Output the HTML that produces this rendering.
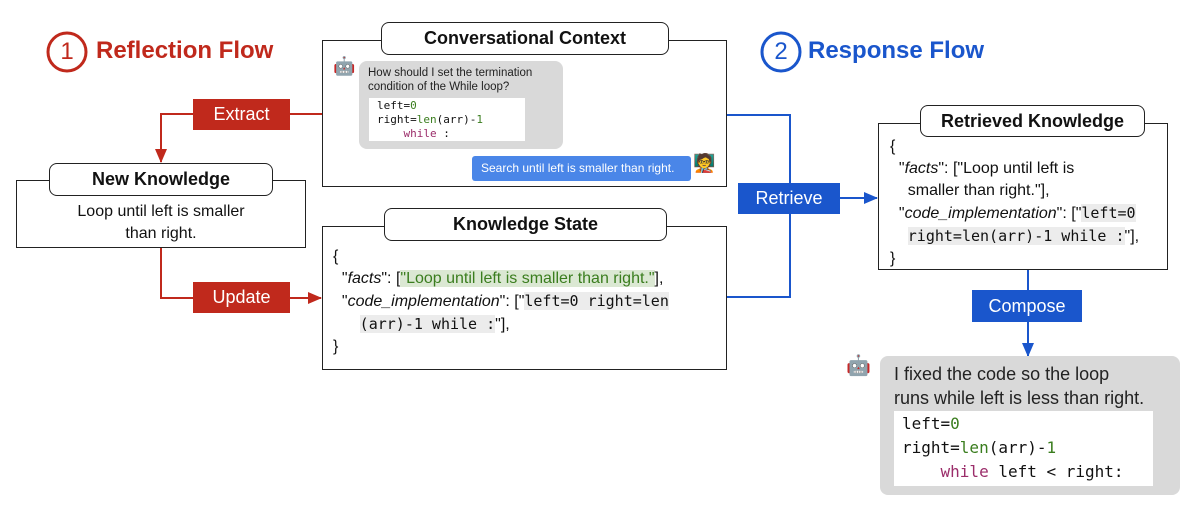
<!DOCTYPE html>
<html><head><meta charset="utf-8"><style>
body{margin:0;width:1200px;height:517px;background:#fff;position:relative;overflow:hidden;font-family:"Liberation Sans",sans-serif;color:#111}
.a{position:absolute;box-sizing:border-box}
.box{border:1.5px solid #222;background:#fff}
.title{border:1.5px solid #222;border-radius:8px;background:#fff;font-weight:bold;font-size:18px;text-align:center}
.lab{color:#fff;font-size:18px;text-align:center}
.red{background:#c0291c}.blue{background:#1a56cc}
.mono{font-family:"DejaVu Sans Mono","Liberation Mono",monospace}
.g{color:#3a7d1e}.p{color:#9b2d6a}
.hl{background:#ececec}
</style></head><body>
<svg class="a" style="left:0;top:0" width="1200" height="517">
<defs>
<marker id="mr" markerWidth="14" markerHeight="14" refX="13" refY="7" orient="auto" markerUnits="userSpaceOnUse"><path d="M0,1L14,7L0,13z" fill="#c0291c"/></marker>
<marker id="mb" markerWidth="14" markerHeight="14" refX="13" refY="7" orient="auto" markerUnits="userSpaceOnUse"><path d="M0,1L14,7L0,13z" fill="#1a56cc"/></marker>
</defs>
<g fill="none" stroke-width="2">
<polyline points="322,114 161,114 161,162" stroke="#c0291c" marker-end="url(#mr)"/>
<polyline points="161,248 161,298 321,298" stroke="#c0291c" marker-end="url(#mr)"/>
<polyline points="727,115 790,115 790,297 727,297" stroke="#1a56cc"/>
<line x1="840" y1="198" x2="877" y2="198" stroke="#1a56cc" marker-end="url(#mb)"/>
<line x1="1028" y1="270" x2="1028" y2="356" stroke="#1a56cc" marker-end="url(#mb)"/>
</g>
<circle cx="67" cy="52" r="19" fill="none" stroke="#c0291c" stroke-width="3"/>
<circle cx="781" cy="52" r="19" fill="none" stroke="#1a56cc" stroke-width="3"/>
</svg>
<div class="a" style="left:56px;top:38px;width:22px;text-align:center;font-size:24px;color:#c0291c">1</div>
<div class="a" style="left:96px;top:37px;font-size:24px;font-weight:bold;color:#c0291c">Reflection Flow</div>
<div class="a" style="left:770px;top:38px;width:22px;text-align:center;font-size:24px;color:#1a56cc">2</div>
<div class="a" style="left:808px;top:37px;font-size:24px;font-weight:bold;color:#1a56cc">Response Flow</div>

<div class="a lab red" style="left:193px;top:99px;width:97px;height:31px;line-height:31px">Extract</div>
<div class="a lab red" style="left:193px;top:282px;width:97px;height:31px;line-height:31px">Update</div>
<div class="a lab blue" style="left:738px;top:183px;width:102px;height:31px;line-height:31px">Retrieve</div>
<div class="a lab blue" style="left:972px;top:290px;width:110px;height:32px;line-height:32px">Compose</div>

<div class="a box" style="left:16px;top:180px;width:290px;height:68px"></div>
<div class="a title" style="left:49px;top:163px;width:224px;height:33px;line-height:31px">New Knowledge</div>
<div class="a" style="left:16px;top:201px;width:290px;text-align:center;font-size:16px;line-height:22px">Loop until left is smaller<br>than right.</div>

<div class="a box" style="left:322px;top:40px;width:405px;height:147px"></div>
<div class="a title" style="left:381px;top:22px;width:288px;height:33px;line-height:31px">Conversational Context</div>
<div class="a" style="left:333px;top:56px;font-size:18px">🤖</div>
<div class="a" style="left:359px;top:61px;width:204px;height:88px;background:#d9d9d9;border-radius:8px"></div>
<div class="a" style="left:368px;top:66px;font-size:11.5px;line-height:14px;color:#222">How should I set the termination<br>condition of the While loop?</div>
<div class="a mono" style="left:369px;top:98px;width:156px;height:43px;background:#fff;font-size:11px;line-height:14px;padding:1px 0 0 8px">left=<span class="g">0</span><br>right=<span class="g">len</span>(arr)-<span class="g">1</span><br>&nbsp;&nbsp;&nbsp;&nbsp;<span class="p">while</span> :</div>
<div class="a" style="left:472px;top:156px;width:219px;height:25px;background:#4a86e8;border-radius:3px;color:#fff;font-size:12px;line-height:25px;padding-left:9px">Search until left is smaller than right.</div>
<div class="a" style="left:693px;top:153px;font-size:18px">🧑‍🏫</div>

<div class="a box" style="left:322px;top:226px;width:405px;height:144px"></div>
<div class="a title" style="left:384px;top:208px;width:283px;height:33px;line-height:31px">Knowledge State</div>
<div class="a" style="left:333px;top:246px;font-size:16px;line-height:22px;width:390px">{<br>&nbsp;&nbsp;"<i>facts</i>": [<span class="g" style="background:#dbe8d3">"Loop until left is smaller than right."</span>],<br>&nbsp;&nbsp;"<i>code_implementation</i>": ["<span class="mono hl" style="font-size:15px">left=0 right=len</span><br>&nbsp;&nbsp;&nbsp;&nbsp;&nbsp;&nbsp;<span class="mono hl" style="font-size:15px">(arr)-1 while :</span>"],<br>}</div>

<div class="a box" style="left:878px;top:123px;width:290px;height:147px"></div>
<div class="a title" style="left:920px;top:105px;width:225px;height:32px;line-height:30px">Retrieved Knowledge</div>
<div class="a" style="left:890px;top:136px;font-size:16px;line-height:22px;width:280px">{<br>&nbsp;&nbsp;"<i>facts</i>": ["Loop until left is<br>&nbsp;&nbsp;&nbsp;&nbsp;smaller than right."],<br>&nbsp;&nbsp;"<i>code_implementation</i>": ["<span class="mono hl" style="font-size:15px">left=0</span><br>&nbsp;&nbsp;&nbsp;&nbsp;<span class="mono hl" style="font-size:15px">right=len(arr)-1 while :</span>"],<br>}</div>

<div class="a" style="left:846px;top:353px;font-size:20px">🤖</div>
<div class="a" style="left:880px;top:356px;width:300px;height:139px;background:#d9d9d9;border-radius:8px"></div>
<div class="a" style="left:894px;top:362px;font-size:18px;line-height:24px;color:#222">I fixed the code so the loop<br>runs while left is less than right.</div>
<div class="a mono" style="left:894px;top:411px;width:259px;height:75px;background:#fff;font-size:16px;line-height:24px;padding:1px 0 0 8px">left=<span class="g">0</span><br>right=<span class="g">len</span>(arr)-<span class="g">1</span><br>&nbsp;&nbsp;&nbsp;&nbsp;<span class="p">while</span> left &lt; right:</div>
</body></html>
